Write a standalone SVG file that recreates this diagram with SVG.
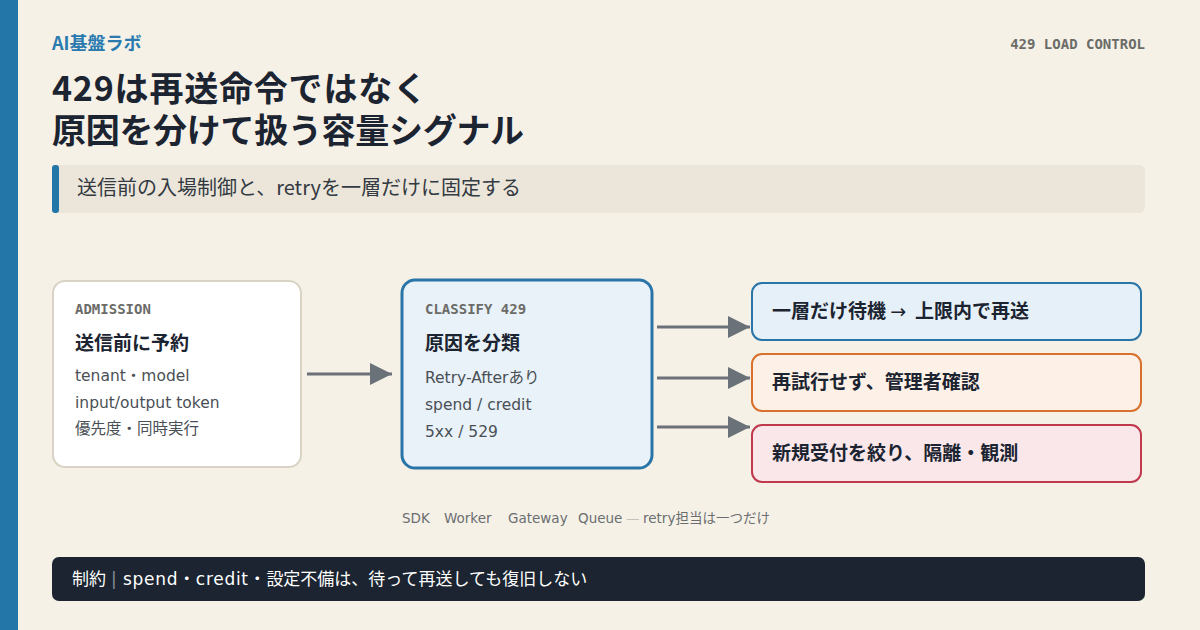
<svg xmlns="http://www.w3.org/2000/svg" width="1200" height="630" viewBox="0 0 1200 630">
<defs>
<style>
.sans{font-family:"DejaVu Sans","Noto Sans CJK JP",sans-serif;}
.jp{font-family:"Noto Sans CJK JP","Noto Sans",sans-serif;}
.mono{font-family:"DejaVu Sans Mono","Liberation Mono",monospace;font-weight:bold;font-size:14px;fill:#6b6b68;}
.ntitle{font-family:"Noto Sans CJK JP",sans-serif;font-weight:bold;font-size:19px;fill:#1b2430;}
.nline{font-family:"DejaVu Sans","Noto Sans CJK JP",sans-serif;font-size:15.5px;fill:#4a4f55;}
.otext{font-family:"Noto Sans CJK JP",sans-serif;font-weight:bold;font-size:19px;fill:#1b2430;}
.conn{stroke:#6b7178;stroke-width:3;fill:none;}
</style>
<marker id="ah" viewBox="0 0 10 10" refX="10" refY="5" markerWidth="22" markerHeight="22" markerUnits="userSpaceOnUse" orient="auto">
<path d="M0,0 L10,5 L0,10 z" fill="#6b7178"/>
</marker>
</defs>
<rect x="0" y="0" width="1200" height="630" fill="#f5f1e7"/>
<rect x="0" y="0" width="18" height="630" fill="#2376a8"/>

<text x="52" y="50" class="jp" font-size="18" font-weight="bold" fill="#2a7ab0">AI基盤ラボ</text>
<text x="1145" y="49" class="mono" text-anchor="end">429 LOAD CONTROL</text>

<text class="jp" font-size="34" font-weight="bold" fill="#1b2430"><tspan x="52" y="101" letter-spacing="0.8">429は再送命令ではなく</tspan><tspan x="52" y="143" letter-spacing="-0.3">原因を分けて扱う容量シグナル</tspan></text>

<rect x="52" y="165" width="1093" height="48" rx="6" fill="#ece6da"/>
<rect x="52" y="165" width="7" height="48" rx="3" fill="#2376a8"/>
<text x="77" y="195" class="jp" font-size="20" fill="#333a42">送信前の入場制御と、retryを一層だけに固定する</text>

<g id="connectors">
<line x1="307" y1="374" x2="392" y2="374" class="conn" marker-end="url(#ah)"/>
<line x1="657" y1="327" x2="750" y2="327" class="conn" marker-end="url(#ah)"/>
<line x1="657" y1="378" x2="750" y2="378" class="conn" marker-end="url(#ah)"/>
<line x1="657" y1="427" x2="750" y2="427" class="conn" marker-end="url(#ah)"/>
</g>

<g id="admission">
<rect x="53" y="281" width="248" height="186" rx="12" fill="#ffffff" stroke="#d9d3c5" stroke-width="2"/>
<text x="75" y="314" class="mono" font-size="13.5">ADMISSION</text>
<text x="75" y="350" class="ntitle">送信前に予約</text>
<text x="75" y="381" class="nline">tenant・model</text>
<text x="75" y="408" class="nline">input/output token</text>
<text x="75" y="434" class="nline" font-size="15">優先度・同時実行</text>
</g>

<g id="classify">
<rect x="402" y="280" width="250" height="188" rx="13" fill="#e8f2f8" stroke="#2a75a8" stroke-width="3"/>
<text x="425" y="314" class="mono" font-size="13.5">CLASSIFY 429</text>
<text x="425" y="350" class="ntitle">原因を分類</text>
<text x="425" y="383" class="nline">Retry-Afterあり</text>
<text x="425" y="410" class="nline">spend / credit</text>
<text x="425" y="437" class="nline">5xx / 529</text>
</g>

<g id="out-retry">
<rect x="752" y="283" width="389" height="57" rx="10" fill="#e6f0f9" stroke="#2a75a8" stroke-width="2"/>
<text x="772" y="318" class="otext" xml:space="preserve">一層だけ待機 <tspan font-family="DejaVu Sans" font-weight="normal">→</tspan>  上限内で再送</text>
</g>
<g id="out-admin">
<rect x="752" y="354" width="389" height="57" rx="10" fill="#fdf0e6" stroke="#d8702e" stroke-width="2"/>
<text x="772" y="389" class="otext">再試行せず、管理者確認</text>
</g>
<g id="out-isolate">
<rect x="752" y="425" width="389" height="57" rx="10" fill="#f9e7ea" stroke="#c0394d" stroke-width="2"/>
<text x="772" y="460" class="otext">新規受付を絞り、隔離・観測</text>
</g>

<text y="523" class="sans" font-size="13.5" fill="#6b6e70"><tspan x="402">SDK</tspan><tspan x="444">Worker</tspan><tspan x="508">Gateway</tspan><tspan x="578">Queue</tspan><tspan x="626" fill="#c4c2ba">—</tspan><tspan x="643">retry担当は一つだけ</tspan></text>

<rect x="52" y="557" width="1093" height="44" rx="7" fill="#1b2430"/>
<text y="585" class="sans" font-size="17" fill="#ffffff"><tspan x="72" font-family="Noto Sans CJK JP">制約</tspan><tspan x="111" fill="#8a9099">|</tspan><tspan x="123" letter-spacing="0.7">spend・credit・</tspan><tspan font-family="Noto Sans CJK JP">設定不備は、待って再送しても復旧しない</tspan></text>
</svg>
